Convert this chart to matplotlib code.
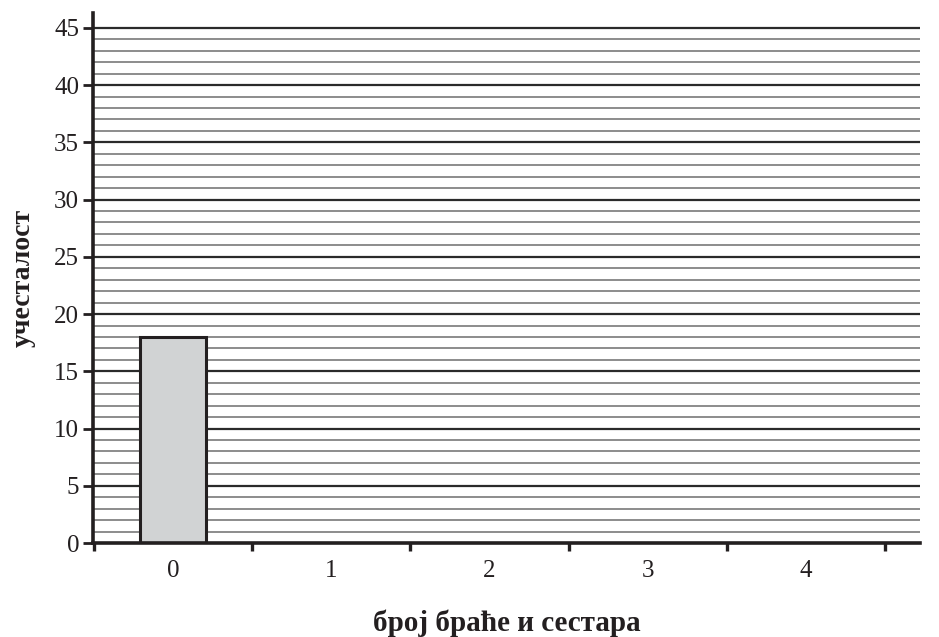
import matplotlib
matplotlib.use("Agg")
import matplotlib.pyplot as plt
from matplotlib.ticker import FixedLocator, NullFormatter
import numpy as np

categories = ["0", "1", "2", "3", "4"]
values = [18, 0, 0, 0, 0]
y_major = [0, 5, 10, 15, 20, 25, 30, 35, 40, 45]
xlabel = "број браће и сестара"
ylabel = "учесталост"

plt.rcParams['font.family'] = ['Liberation Serif', 'DejaVu Serif']

fig = plt.figure(figsize=(9.39, 6.37), dpi=100)
ax = fig.add_axes([93/939, (637-543)/637, 827/939, 530/637])

x = np.arange(len(categories))
ax.set_xlim(-0.505, 4.72)
ax.set_ylim(0, 46.3)

# grid lines
for v in range(1, 46):
    major = v % 5 == 0
    ax.axhline(v, color='#2b2b2b' if major else '#6e6e6e',
               lw=1.6 if major else 1.1, zorder=1)

for xi, val in zip(x, values):
    if val > 0:
        ax.bar(xi, val, width=0.42, color='#d1d3d4', edgecolor='#231f20',
               linewidth=2.2, zorder=3)

for s in ['top', 'right']:
    ax.spines[s].set_visible(False)
for s in ['left', 'bottom']:
    ax.spines[s].set_linewidth(2.6)
    ax.spines[s].set_color('#231f20')
    ax.spines[s].set_zorder(5)

ax.set_yticks(y_major)
ax.set_yticklabels([str(v) for v in y_major])
ax.set_xticks(x)
ax.set_xticklabels(categories)
ax.tick_params(axis='x', which='major', length=0, pad=12, labelsize=18, colors='#231f20')
ax.xaxis.set_minor_locator(FixedLocator(np.arange(-0.5, 5.0, 1.0)))
ax.xaxis.set_minor_formatter(NullFormatter())
ax.tick_params(axis='x', which='minor', length=6, width=2.4, direction='out', color='#231f20')
ax.tick_params(axis='y', which='major', length=7, width=2, direction='out', pad=3,
               labelsize=18, colors='#231f20')

ax.set_xlabel(xlabel, fontsize=21, fontweight='bold', labelpad=20, color='#231f20')
ax.set_ylabel(ylabel, fontsize=20, fontweight='bold', labelpad=13, color='#231f20')

fig.savefig("out.png", dpi=100, facecolor='white')
